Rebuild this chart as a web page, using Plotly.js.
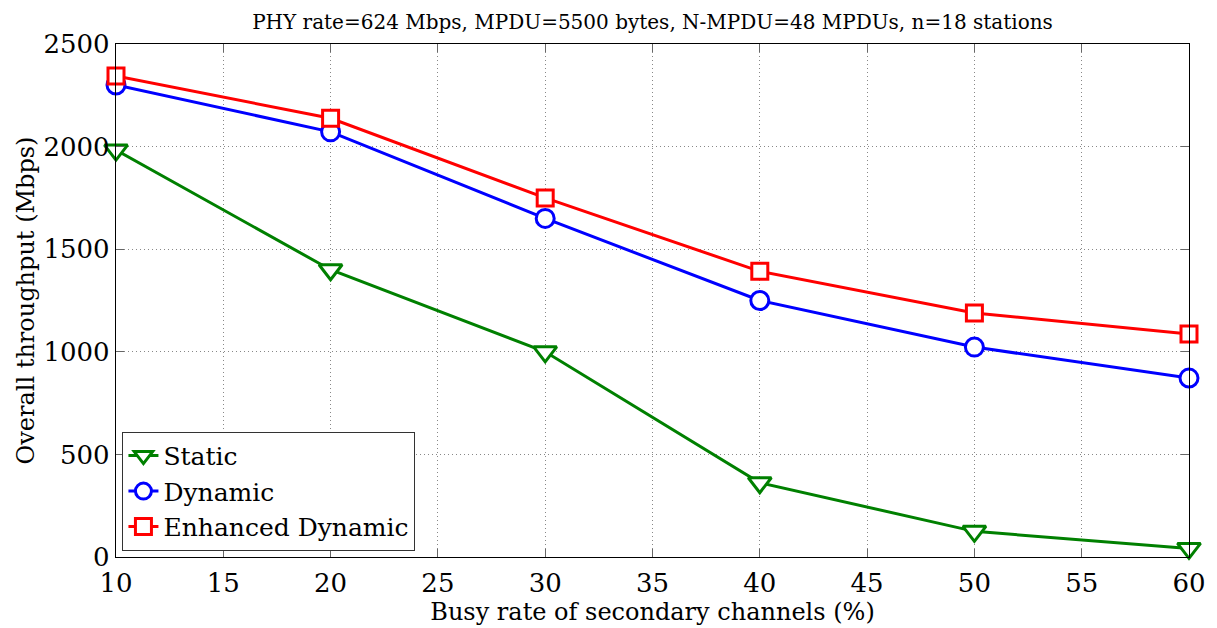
<!DOCTYPE html>
<html><head><meta charset="utf-8">
<script src="https://cdn.plot.ly/plotly-3.0.1.min.js"></script>
<style>body{margin:0;background:#fff}#c{width:1217px;height:628px}</style>
</head><body><div id="c"></div>
<script>
var busyRate = [10, 20, 30, 40, 50, 60];
var staticTp = [1983, 1400, 1000, 362, 125, 42];
var dynamicTp = [2300, 2072, 1650, 1250, 1023, 872];
var enhancedTp = [2344, 2138, 1750, 1392, 1189, 1087];
var yTicks = [0, 500, 1000, 1500, 2000, 2500];
var xTicks = [10, 15, 20, 25, 30, 35, 40, 45, 50, 55, 60];
var F = "DejaVu Serif, serif";
function tr(name, y, color, sym, sz){
  return {x: busyRate, y: y, name: name, type:'scatter', mode:'lines+markers',
    line:{color:color, width:3}, cliponaxis:false,
    marker:{symbol:sym, size:sz, color:'#fff', line:{color:color, width:3}}};
}
var data = [
  tr('Static', staticTp, '#008000', 'triangle-down', 20),
  tr('Dynamic', dynamicTp, '#0000ff', 'circle', 18),
  tr('Enhanced Dynamic', enhancedTp, '#ff0000', 'square', 16)
];
var ax = {showline:true, mirror:'ticks', linecolor:'#000', linewidth:1.3, ticks:'inside', ticklen:8, tickcolor:'#666',
  showgrid:true, gridcolor:'#888', griddash:'1px,3px', gridwidth:1, zeroline:false,
  tickfont:{family:F, size:26, color:'#000'}};
var layout = {
  width:1217, height:628, paper_bgcolor:'#fff', plot_bgcolor:'#fff',
  margin:{l:116, r:28, t:44, b:71},
  title:{text:'PHY rate=624 Mbps, MPDU=5500 bytes, N-MPDU=48 MPDUs, n=18 stations', font:{family:F, size:20, color:'#000'}, x:0.5, xref:'paper', y:0.965, yanchor:'middle'},
  xaxis: Object.assign({}, ax, {range:[10,60], tickvals:xTicks, ticklabelstandoff:3, title:{text:'Busy rate of secondary channels (%)', font:{family:F, size:24, color:'#000'}, standoff:0}}),
  yaxis: Object.assign({}, ax, {range:[0,2500], tickvals:yTicks, title:{text:'Overall throughput (Mbps)', font:{family:F, size:24, color:'#000'}, standoff:2}}),
  showlegend:true,
  legend:{x:0.006, y:0.012, xanchor:'left', yanchor:'bottom', bgcolor:'#fff', bordercolor:'#333', borderwidth:1,
    font:{family:F, size:25, color:'#000'}, tracegroupgap:0, itemwidth:30}
};
Plotly.newPlot('c', data, layout, {displayModeBar:false});
</script></body></html>
